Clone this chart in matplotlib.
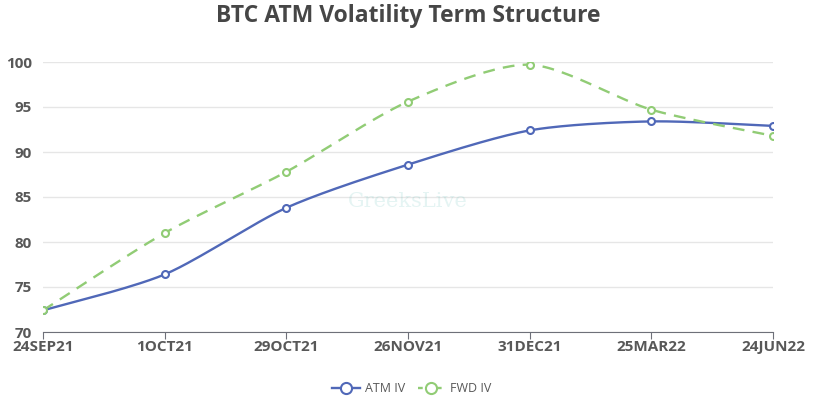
import numpy as np
import matplotlib
matplotlib.use("Agg")
import matplotlib.pyplot as plt
from matplotlib.lines import Line2D

# expiries and implied vols
expiries = ["24SEP21", "1OCT21", "29OCT21", "26NOV21", "31DEC21", "25MAR22", "24JUN22"]
atm_iv = [72.4, 76.4, 83.8, 88.6, 92.4, 93.4, 92.9]
fwd_iv = [72.4, 81.0, 87.8, 95.6, 99.7, 94.7, 91.8]

ATM_COLOR = "#5068b8"
FWD_COLOR = "#91cc75"
TEXT_COLOR = "#585858"


# smooth curve through the points (catmull-rom), just for drawing
def smooth(xs, ys, n=30):
    xs = np.asarray(xs, float)
    ys = np.asarray(ys, float)
    px = np.concatenate([[xs[0]], xs, [xs[-1]]])
    py = np.concatenate([[ys[0]], ys, [ys[-1]]])
    out_x, out_y = [], []
    t = np.linspace(0, 1, n)
    for i in range(1, len(px) - 2):
        for arr, out in ((px, out_x), (py, out_y)):
            p0, p1, p2, p3 = arr[i - 1], arr[i], arr[i + 1], arr[i + 2]
            m1 = (p2 - p0) / 2 * 0.8
            m2 = (p3 - p1) / 2 * 0.8
            h00 = 2 * t**3 - 3 * t**2 + 1
            h10 = t**3 - 2 * t**2 + t
            h01 = -2 * t**3 + 3 * t**2
            h11 = t**3 - t**2
            out.extend(h00 * p1 + h10 * m1 + h01 * p2 + h11 * m2)
    return np.array(out_x), np.array(out_y)


plt.rcParams["font.family"] = ["Open Sans", "DejaVu Sans"]

fig = plt.figure(figsize=(8.16, 3.99), dpi=100)
ax = fig.add_axes([43 / 816, 1 - 332 / 399, (773 - 43) / 816, (332 - 62) / 399])

x = np.arange(len(expiries))

sx, sy = smooth(x, atm_iv)
ax.plot(sx, sy, color=ATM_COLOR, lw=1.7, zorder=3)
ax.plot(x, atm_iv, "o", ms=5, mfc="white", mec=ATM_COLOR, mew=1.5, zorder=4)

sx, sy = smooth(x, fwd_iv)
ax.plot(sx, sy, color=FWD_COLOR, lw=1.7, ls=(0, (5, 3.5)), zorder=3)
ax.plot(x, fwd_iv, "o", ms=5, mfc="white", mec=FWD_COLOR, mew=1.5, zorder=4)

ax.set_xlim(0, len(expiries) - 1)
ax.set_ylim(70, 100)
ax.set_yticks(range(70, 101, 5))
ax.set_xticks(x)
ax.set_xticklabels(expiries)
ax.grid(axis="y", color="#e6e6e6", lw=1)
ax.set_axisbelow(True)

for s in ["top", "right", "left"]:
    ax.spines[s].set_visible(False)
ax.spines["bottom"].set_color("#6e7079")
ax.tick_params(axis="y", length=0, pad=8, labelsize=11, labelcolor=TEXT_COLOR)
ax.tick_params(axis="x", length=5, color="#6e7079", pad=1, labelsize=11, labelcolor=TEXT_COLOR)
for lab in ax.get_xticklabels() + ax.get_yticklabels():
    lab.set_fontweight("bold")

# faint watermark
ax.text(3.0, 84.5, "GreeksLive", ha="center", va="center", fontsize=15,
        family="DejaVu Serif", color="#2aa9a0", alpha=0.12, zorder=1)

fig.text(0.5, 1 - 16 / 399, "BTC ATM Volatility Term Structure", ha="center", va="center",
         fontsize=16.5, fontweight="bold", color="#464646")

handles = [
    Line2D([], [], color=ATM_COLOR, lw=1.7, marker="o", ms=8, mfc="white", mew=1.5),
    Line2D([], [], color=FWD_COLOR, lw=1.7, ls=(0, (2, 2)), marker="o", ms=8, mfc="white", mew=1.5),
]
fig.legend(handles, ["ATM IV", "FWD IV"], loc="center", bbox_to_anchor=(412 / 816, 1 - 389 / 399),
           ncol=2, frameon=False, fontsize=9, handlelength=2.2, columnspacing=1.0,
           handletextpad=0.4, labelcolor=TEXT_COLOR)

fig.savefig("out.png", dpi=100)
